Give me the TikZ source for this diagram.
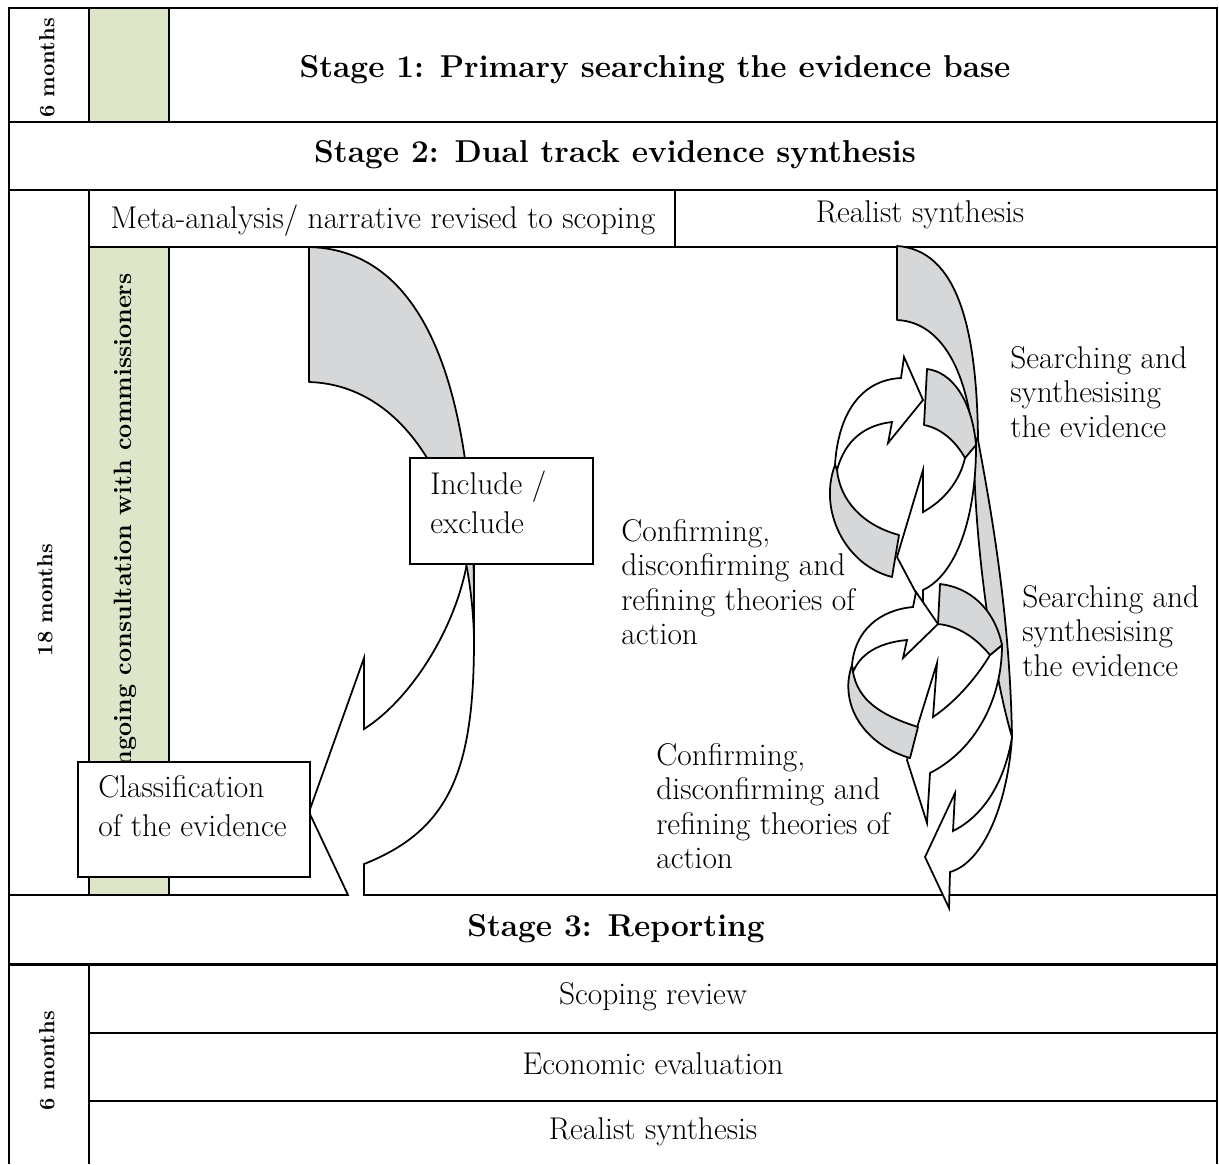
\documentclass[tikz,border=0pt]{standalone}

\definecolor{consultgreen}{RGB}{221,230,200}
\definecolor{backgrey}{RGB}{214,215,217}
\newcommand{\bodysize}{\fontsize{17.9}{19.6}\selectfont}
\newcommand{\boxsize}{\fontsize{17.9}{22}\selectfont}
\newcommand{\stagesize}{\fontsize{18}{22}\selectfont\bfseries}
\newcommand{\monthsize}{\fontsize{12.5}{15}\selectfont\bfseries}

\tikzset{
  tableline/.style={line width=1pt},
  backface/.style={draw, fill=backgrey, line width=1pt, line join=round},
  frontface/.style={draw, fill=white, line width=1pt},
  stepbox/.style={draw, fill=white, line width=0.9pt, anchor=north west},
  plaintext/.style={align=left, font=\bodysize, inner sep=0pt},
  boxtext/.style={align=left, font=\boxsize, inner sep=0pt, anchor=north west},
  stagetitle/.style={font=\stagesize, inner sep=0pt},
  monthtext/.style={font=\monthsize, rotate=90, inner sep=0pt},
}

\begin{document}
\begin{tikzpicture}[x=0.02cm, y=-0.02cm]
    \useasboundingbox (0,0) rectangle (1219,1164);

    \fill[consultgreen] (89,8) rectangle (169,122);
    \fill[consultgreen] (89,247) rectangle (169,895);
    \node[monthtext, font=\fontsize{14.3}{17}\selectfont\bfseries, anchor=east] (ongoing) at (125,273) {Ongoing consultation with commissioners};

    \draw[tableline] (9,1164) -- (9,8) -- (1217,8) -- (1217,1164);
    \draw[tableline] (9,122) -- (1217,122);
    \draw[tableline] (9,190) -- (1217,190);
    \draw[tableline] (89,247) -- (1217,247);
    \draw[tableline] (9,895) -- (1217,895);
    \draw[line width=1.7pt] (9,964) -- (1217,964);
    \draw[tableline] (89,1033) -- (1217,1033);
    \draw[tableline] (89,1101) -- (1217,1101);
    \draw[tableline] (89,8) -- (89,122) (169,8) -- (169,122);
    \draw[tableline] (89,190) -- (89,895) (169,247) -- (169,895);
    \draw[tableline] (675,190) -- (675,247);
    \draw[tableline] (89,964) -- (89,1164);

    \node[monthtext] (m6top) at (47,68) {6 months};
    \node[monthtext] (m18) at (45,600) {18 months};
    \node[monthtext] (m6bot) at (47,1061) {6 months};

    \node[stagetitle] (stage1) at (655,70) {Stage 1: Primary searching the evidence base};
    \node[stagetitle] (stage2) at (615,155) {Stage 2: Dual track evidence synthesis};
    \node[stagetitle] (stage3) at (616,929) {Stage 3: Reporting};

    \node[plaintext] (meta) at (383,221) {Meta-analysis/ narrative revised to scoping};
    \node[plaintext] (realisthead) at (920,215) {Realist synthesis};
    \node[plaintext] (scoping) at (653,997) {Scoping review};
    \node[plaintext] (economic) at (653,1064) {Economic evaluation};
    \node[plaintext] (realistrep) at (653,1132) {Realist synthesis};

    % meta-analysis track
    \begin{scope}
        \clip (169,247) rectangle (700,895);
        \filldraw[frontface] (474,530) -- (474,640) .. controls (474,770) and (450,830) .. (364,864) -- (364,929) -- (309,812) -- (364,658) -- (364,729) .. controls (410,700) and (455,630) .. (467,563) -- (470,530) -- cycle;
        \filldraw[backface] (309,247) .. controls (430,250) and (474,400) .. (474,600) -- (474,637) .. controls (470,500) and (410,385) .. (309,382) -- cycle;
    \end{scope}

    \node[stepbox, minimum width=3.66cm, minimum height=2.12cm] (incl) at (409,457) {};
    \node[boxtext] (incltxt) at (430,471) {Include /\\exclude};
    \node[stepbox, minimum width=4.64cm, minimum height=2.3cm] (classif) at (77,761) {};
    \node[boxtext] (classiftxt) at (98,775) {Classification\\of the evidence};

    % realist track
    \filldraw[backface] (897,246) .. controls (958,250) and (977,330) .. (978,440) .. controls (993,520) and (1010,620) .. (1012,737) .. controls (995,680) and (976,560) .. (974,460) .. controls (972,380) and (945,322) .. (897,320) -- cycle;
    \filldraw[frontface] (1012,737) .. controls (1008,800) and (985,862) .. (950,872) -- (949,908) -- (925,857) -- (955,793) -- (953,831) .. controls (985,815) and (1005,780) .. (1012,737) -- cycle;

    \filldraw[frontface] (976,440) .. controls (977,520) and (955,575) .. (923,590) -- (923,606) -- (897,557) -- (923,470) -- (923,512) .. controls (945,500) and (960,480) .. (965,458) -- cycle;
    \filldraw[backface] (927,369) .. controls (952,372) and (972,400) .. (976,445) -- (965,458) .. controls (955,440) and (940,428) .. (924,425) -- cycle;

    \filldraw[frontface] (1002,645) .. controls (1002,700) and (975,750) .. (930,773) -- (927,823) -- (907,760) -- (937,663) -- (933,717) .. controls (958,700) and (978,675) .. (990,655) -- cycle;
    \filldraw[backface] (940,584) .. controls (968,587) and (994,607) .. (1002,645) -- (990,655) .. controls (975,637) and (958,626) .. (938,624) -- cycle;

    \filldraw[frontface] (835,465) .. controls (838,415) and (860,380) .. (901,378) -- (904,357) -- (923,400) -- (888,443) -- (892,422) .. controls (865,425) and (845,440) .. (837,470) -- cycle;
    \filldraw[backface] (835,465) .. controls (818,510) and (845,565) .. (892,577) -- (899,535) .. controls (862,525) and (840,500) .. (837,470) -- cycle;

    \filldraw[frontface] (852,665) .. controls (855,630) and (880,610) .. (913,607) -- (916,592) -- (938,624) -- (903,658) -- (907,640) .. controls (885,642) and (862,650) .. (853,672) -- cycle;
    \filldraw[backface] (852,665) .. controls (838,705) and (865,745) .. (910,758) -- (918,727) .. controls (880,715) and (858,700) .. (853,672) -- cycle;

    \node[plaintext, anchor=west] (search1) at (1010,392) {Searching and\\synthesising\\the evidence};
    \node[plaintext, anchor=west] (search2) at (1022,631) {Searching and\\synthesising\\the evidence};
    \node[plaintext, anchor=west] (confirm1) at (621,582) {Confirming,\\disconfirming and\\refining theories of\\action};
    \node[plaintext, anchor=west] (confirm2) at (656,806) {Confirming,\\disconfirming and\\refining theories of\\action};
\end{tikzpicture}
\end{document}
